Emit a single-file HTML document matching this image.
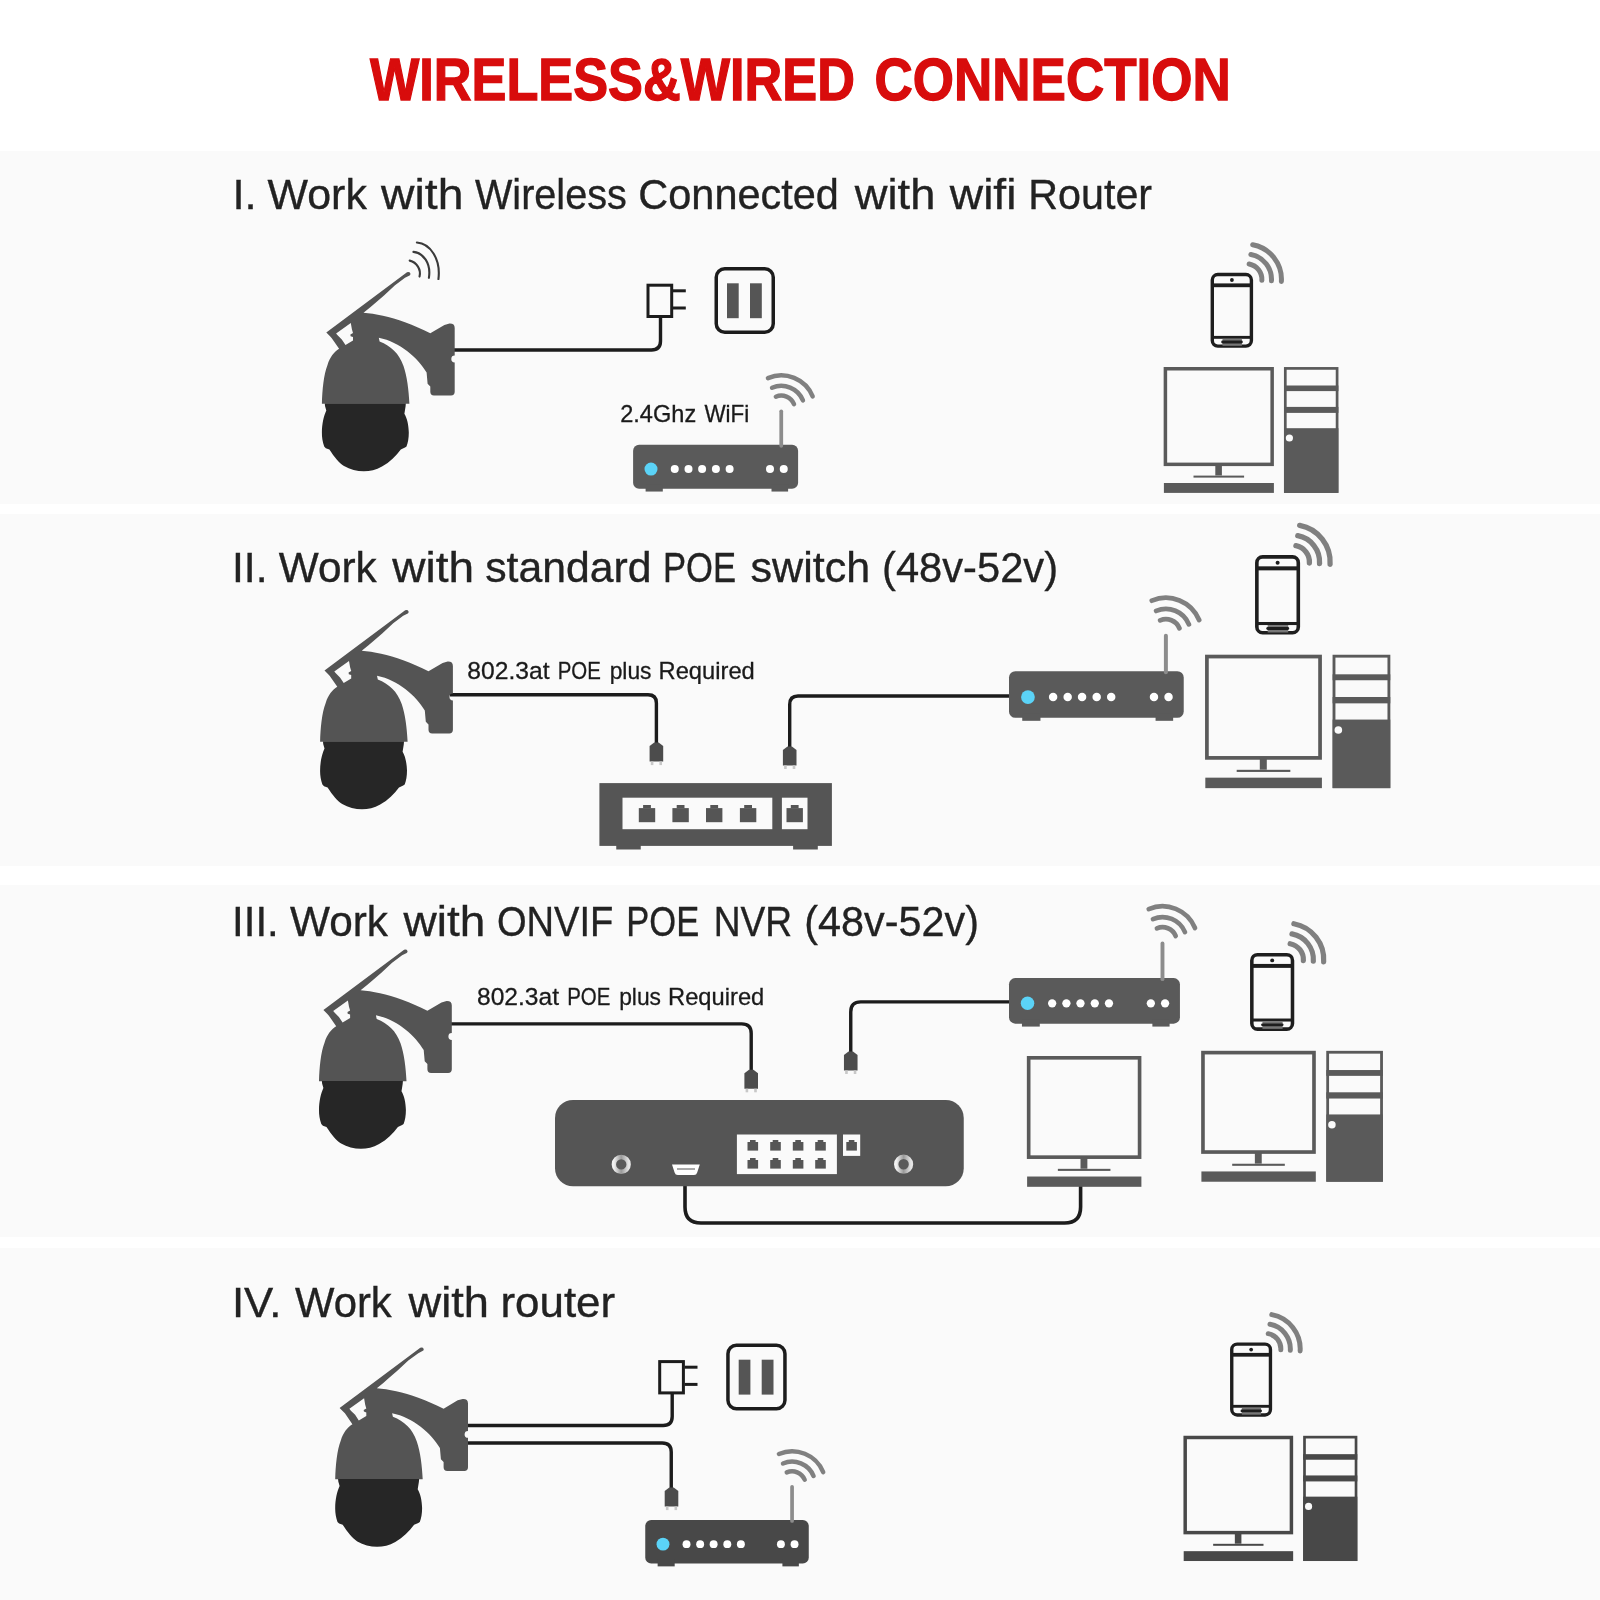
<!DOCTYPE html><html><head><meta charset="utf-8"><style>html,body{margin:0;padding:0;background:#fff;}svg{display:block;}</style></head><body>
<svg width="1600" height="1600" viewBox="0 0 1600 1600">
<defs><filter id="idf" x="-5%" y="-30%" width="110%" height="160%"><feColorMatrix type="identity"/></filter><linearGradient id="knobg" x1="0" y1="0" x2="1" y2="0"><stop offset="0" stop-color="#f2f2f2"/><stop offset="0.5" stop-color="#9a9a9a"/><stop offset="1" stop-color="#e6e6e6"/></linearGradient><g id="cam"><path d="M407.0,272.3 Q409.6,271.6 410.4,273.6 Q410.6,275 409.6,275.4 L405,277.8 L395,285.2 L384,295.4 L375,303.2 L370,307.6 L363.5,312.8 C375,313.8 390,316.5 405,322.3 C414,325.6 422,329.2 430.3,333.3 L444.4,324.9 L449.5,323.6 Q454.7,323.4 454.7,328 L454.7,355.6 A3.4,3.4 0 0 0 454.7,362.4 L454.7,391.8 Q454.7,395.5 451,395.5 L434,395.5 Q430.3,395.5 430.3,391.8 L430.3,386.6 L427.6,383.8 L426.6,372.5 C418,358 400,342 378.8,337.8 L379.6,341.4 C391,346 399,353 403.5,366 C407,376 408.8,390 409.4,403.8 L321.9,403.8 C322.3,390 323.6,375 327.5,365 C330,357 334,352 339.1,348.8 L331.6,337.9 L329.8,336.0 L326.3,332.6 Z" fill="#545454"/><path d="M336.1,333.4 L350.8,322.9 L351.9,329.3 L353,333 L350.4,334.6 L350.6,336.2 L353,337 L353,340.5 L345.5,345 L341.8,339.4 L337.6,335.3 Z" fill="#fafafa"/><path d="M324.8,403.6 L405.8,403.6 L405.6,406.3 L404.4,413.8 C407,418 408.6,425 408.8,432.5 C408.8,438 408,443 406.5,446.5 L405,447.6 L400.8,449.4 C396,456 390,462 382,466.5 C376,469.8 370,471.3 363.8,471.3 C357,471.3 350,469.5 344,466 C339,463 334.5,457 329.4,449.4 L325.8,448.2 L324.2,446.5 C322.6,442 321.8,437 321.9,432.5 C321.9,424 323.8,416 326.3,410.6 L325,406 Z" fill="#262626"/></g><g id="router"><rect x="0" y="0" width="165" height="44" rx="6" fill="#5a5a5a"/><rect x="12.5" y="40" width="17.2" height="6.8" fill="#5a5a5a"/><rect x="138.4" y="40" width="16.6" height="6.8" fill="#5a5a5a"/><line x1="148.15" y1="-33.5" x2="148.15" y2="1" stroke="#8c8c8c" stroke-width="3.75" stroke-linecap="round"/><circle cx="17.9" cy="24.35" r="6.5" fill="#5bd3f7"/><circle cx="41.65" cy="24.35" r="4" fill="#fff"/><circle cx="55.4" cy="24.35" r="4" fill="#fff"/><circle cx="69" cy="24.35" r="4" fill="#fff"/><circle cx="82.8" cy="24.35" r="4" fill="#fff"/><circle cx="96.5" cy="24.35" r="4" fill="#fff"/><circle cx="136.9" cy="24.35" r="4" fill="#fff"/><circle cx="150.65" cy="24.35" r="4" fill="#fff"/><path d="M142.76,-48.05 A13.80,13.80 0 0 1 160.90,-40.63" fill="none" stroke="#808080" stroke-width="4.5" stroke-linecap="round"/><path d="M138.97,-56.98 A23.50,23.50 0 0 1 169.86,-44.34" fill="none" stroke="#808080" stroke-width="4.5" stroke-linecap="round"/><path d="M134.87,-66.65 A34.00,34.00 0 0 1 179.56,-48.36" fill="none" stroke="#808080" stroke-width="4.5" stroke-linecap="round"/></g><g id="router4"><rect x="0" y="0" width="165" height="44" rx="6" fill="#484848"/><rect x="12.5" y="40" width="17.2" height="6.8" fill="#484848"/><rect x="138.4" y="40" width="16.6" height="6.8" fill="#484848"/><line x1="148.15" y1="-33.5" x2="148.15" y2="1" stroke="#8c8c8c" stroke-width="3.75" stroke-linecap="round"/><circle cx="17.9" cy="24.35" r="6.5" fill="#5bd3f7"/><circle cx="41.65" cy="24.35" r="4" fill="#fff"/><circle cx="55.4" cy="24.35" r="4" fill="#fff"/><circle cx="69" cy="24.35" r="4" fill="#fff"/><circle cx="82.8" cy="24.35" r="4" fill="#fff"/><circle cx="96.5" cy="24.35" r="4" fill="#fff"/><circle cx="136.9" cy="24.35" r="4" fill="#fff"/><circle cx="150.65" cy="24.35" r="4" fill="#fff"/><path d="M142.76,-48.05 A13.80,13.80 0 0 1 160.90,-40.63" fill="none" stroke="#808080" stroke-width="4.5" stroke-linecap="round"/><path d="M138.97,-56.98 A23.50,23.50 0 0 1 169.86,-44.34" fill="none" stroke="#808080" stroke-width="4.5" stroke-linecap="round"/><path d="M134.87,-66.65 A34.00,34.00 0 0 1 179.56,-48.36" fill="none" stroke="#808080" stroke-width="4.5" stroke-linecap="round"/></g><g id="phone"><rect x="1.7" y="1.7" width="39.1" height="71.6" rx="5.5" fill="#fafafa" stroke="#1e1e1e" stroke-width="3.4"/><rect x="1.7" y="10.6" width="39.1" height="3.8" fill="#1e1e1e"/><rect x="1.7" y="63.1" width="39.1" height="2.9" fill="#1e1e1e"/><circle cx="21.3" cy="7.2" r="1.9" fill="#1e1e1e"/><rect x="11.9" y="66" width="19.4" height="7" fill="#777"/><rect x="10.6" y="67.8" width="21.6" height="2.8" rx="1.4" fill="#1e1e1e"/><path d="M38.54,-8.84 A15.60,15.60 0 0 1 51.27,7.45" fill="none" stroke="#808080" stroke-width="5" stroke-linecap="round"/><path d="M40.29,-18.28 A25.20,25.20 0 0 1 60.85,8.04" fill="none" stroke="#808080" stroke-width="5" stroke-linecap="round"/><path d="M42.11,-28.06 A35.15,35.15 0 0 1 70.78,8.65" fill="none" stroke="#808080" stroke-width="5" stroke-linecap="round"/></g><g id="mon_comp"><rect x="1.7" y="1.75" width="106.75" height="95.6" fill="#fafafa" stroke="#5a5a5a" stroke-width="3.5"/><rect x="51.6" y="98" width="6.6" height="10.5" fill="#5a5a5a"/><rect x="29.8" y="108.6" width="50.6" height="2" fill="#5a5a5a"/><rect x="0.2" y="116" width="110" height="9.9" fill="#5a5a5a"/></g><g id="comp"><use href="#mon_comp"/><rect x="121.6" y="1.4" width="51.8" height="123.1" fill="#fafafa" stroke="#5a5a5a" stroke-width="2.7"/><rect x="120.3" y="18.5" width="54.4" height="5.6" fill="#5a5a5a"/><rect x="120.3" y="39.9" width="54.4" height="6" fill="#5a5a5a"/><rect x="120.3" y="61.2" width="54.4" height="64.7" fill="#5a5a5a"/><circle cx="125.7" cy="71" r="3.6" fill="#fafafa"/></g><g id="mon_comp4"><rect x="1.7" y="1.75" width="106.75" height="95.6" fill="#fafafa" stroke="#484848" stroke-width="3.5"/><rect x="51.6" y="98" width="6.6" height="10.5" fill="#484848"/><rect x="29.8" y="108.6" width="50.6" height="2" fill="#484848"/><rect x="0.2" y="116" width="110" height="9.9" fill="#484848"/></g><g id="comp4"><use href="#mon_comp4"/><rect x="121.6" y="1.4" width="51.8" height="123.1" fill="#fafafa" stroke="#484848" stroke-width="2.7"/><rect x="120.3" y="18.5" width="54.4" height="5.6" fill="#484848"/><rect x="120.3" y="39.9" width="54.4" height="6" fill="#484848"/><rect x="120.3" y="61.2" width="54.4" height="64.7" fill="#484848"/><circle cx="125.7" cy="71" r="3.6" fill="#fafafa"/></g><g id="plugout"><rect x="648" y="285.2" width="23.7" height="31.3" fill="#fafafa" stroke="#1c1c1c" stroke-width="3"/><line x1="673" y1="290.8" x2="685.8" y2="290.8" stroke="#1c1c1c" stroke-width="3"/><line x1="673" y1="308" x2="685.8" y2="308" stroke="#1c1c1c" stroke-width="3"/><rect x="716.25" y="268.75" width="57" height="63.5" rx="8.5" fill="#fafafa" stroke="#1c1c1c" stroke-width="3.5"/><rect x="727" y="283.3" width="11.7" height="34.9" fill="#555"/><rect x="750" y="283.3" width="11.8" height="34.9" fill="#555"/></g><g id="rj"><path d="M-2.2,0 L2.2,0 L6.8,3.6 L6.8,19 L-6.8,19 L-6.8,3.6 Z" fill="#4c4c4c"/><rect x="-5.6" y="19" width="2.6" height="3.6" fill="#c8c8c8"/><rect x="3" y="19" width="2.6" height="3.6" fill="#c8c8c8"/></g><g id="port"><rect x="-3.9" y="0" width="7.8" height="3.3" fill="#555"/><rect x="-8.2" y="3.1" width="16.4" height="14.1" fill="#555"/></g><g id="sport"><rect x="-2.8" y="0" width="5.6" height="2.2" fill="#555"/><rect x="-5.3" y="2" width="10.6" height="8.6" fill="#555"/></g></defs>
<rect x="0" y="0" width="1600" height="1600" fill="#fff"/>
<rect x="0" y="151" width="1600" height="353" fill="#fafafa"/>
<rect x="0" y="514" width="1600" height="352" fill="#fafafa"/>
<rect x="0" y="885" width="1600" height="352" fill="#fafafa"/>
<rect x="0" y="1248" width="1600" height="352" fill="#fafafa"/>
<text filter="url(#idf)" x="370.00" y="99.5" font-family="Liberation Sans, sans-serif" font-size="59.6" font-weight="bold" fill="#d80c0c" stroke="#d80c0c" stroke-width="1.3" textLength="484.89" lengthAdjust="spacingAndGlyphs">WIRELESS&amp;WIRED</text>
<text filter="url(#idf)" x="874.47" y="99.5" font-family="Liberation Sans, sans-serif" font-size="59.6" font-weight="bold" fill="#d80c0c" stroke="#d80c0c" stroke-width="1.3" textLength="356.33" lengthAdjust="spacingAndGlyphs">CONNECTION</text>
<text filter="url(#idf)" x="232.44" y="209.4" font-family="Liberation Sans, sans-serif" font-size="42.7" font-weight="normal" fill="#222" stroke="#222" stroke-width="0.35" textLength="24.20" lengthAdjust="spacingAndGlyphs">I.</text>
<text filter="url(#idf)" x="267.50" y="209.4" font-family="Liberation Sans, sans-serif" font-size="42.7" font-weight="normal" fill="#222" stroke="#222" stroke-width="0.35" textLength="99.34" lengthAdjust="spacingAndGlyphs">Work</text>
<text filter="url(#idf)" x="381.09" y="209.4" font-family="Liberation Sans, sans-serif" font-size="42.7" font-weight="normal" fill="#222" stroke="#222" stroke-width="0.35" textLength="82.39" lengthAdjust="spacingAndGlyphs">with</text>
<text filter="url(#idf)" x="475.00" y="209.4" font-family="Liberation Sans, sans-serif" font-size="42.7" font-weight="normal" fill="#222" stroke="#222" stroke-width="0.35" textLength="151.75" lengthAdjust="spacingAndGlyphs">Wireless</text>
<text filter="url(#idf)" x="638.36" y="209.4" font-family="Liberation Sans, sans-serif" font-size="42.7" font-weight="normal" fill="#222" stroke="#222" stroke-width="0.35" textLength="200.55" lengthAdjust="spacingAndGlyphs">Connected</text>
<text filter="url(#idf)" x="854.81" y="209.4" font-family="Liberation Sans, sans-serif" font-size="42.7" font-weight="normal" fill="#222" stroke="#222" stroke-width="0.35" textLength="80.60" lengthAdjust="spacingAndGlyphs">with</text>
<text filter="url(#idf)" x="949.83" y="209.4" font-family="Liberation Sans, sans-serif" font-size="42.7" font-weight="normal" fill="#222" stroke="#222" stroke-width="0.35" textLength="66.60" lengthAdjust="spacingAndGlyphs">wifi</text>
<text filter="url(#idf)" x="1028.35" y="209.4" font-family="Liberation Sans, sans-serif" font-size="42.7" font-weight="normal" fill="#222" stroke="#222" stroke-width="0.35" textLength="123.76" lengthAdjust="spacingAndGlyphs">Router</text>
<text filter="url(#idf)" x="231.99" y="582.25" font-family="Liberation Sans, sans-serif" font-size="42.5" font-weight="normal" fill="#222" stroke="#222" stroke-width="0.35" textLength="35.59" lengthAdjust="spacingAndGlyphs">II.</text>
<text filter="url(#idf)" x="278.75" y="582.25" font-family="Liberation Sans, sans-serif" font-size="42.5" font-weight="normal" fill="#222" stroke="#222" stroke-width="0.35" textLength="98.00" lengthAdjust="spacingAndGlyphs">Work</text>
<text filter="url(#idf)" x="392.33" y="582.25" font-family="Liberation Sans, sans-serif" font-size="42.5" font-weight="normal" fill="#222" stroke="#222" stroke-width="0.35" textLength="81.77" lengthAdjust="spacingAndGlyphs">with</text>
<text filter="url(#idf)" x="485.24" y="582.25" font-family="Liberation Sans, sans-serif" font-size="42.5" font-weight="normal" fill="#222" stroke="#222" stroke-width="0.35" textLength="166.31" lengthAdjust="spacingAndGlyphs">standard</text>
<text filter="url(#idf)" x="662.96" y="582.25" font-family="Liberation Sans, sans-serif" font-size="42.5" font-weight="normal" fill="#222" stroke="#222" stroke-width="0.35" textLength="73.14" lengthAdjust="spacingAndGlyphs">POE</text>
<text filter="url(#idf)" x="750.49" y="582.25" font-family="Liberation Sans, sans-serif" font-size="42.5" font-weight="normal" fill="#222" stroke="#222" stroke-width="0.35" textLength="119.69" lengthAdjust="spacingAndGlyphs">switch</text>
<text filter="url(#idf)" x="882.04" y="582.25" font-family="Liberation Sans, sans-serif" font-size="42.5" font-weight="normal" fill="#222" stroke="#222" stroke-width="0.35" textLength="176.07" lengthAdjust="spacingAndGlyphs">(48v-52v)</text>
<text filter="url(#idf)" x="232.03" y="936" font-family="Liberation Sans, sans-serif" font-size="42.5" font-weight="normal" fill="#222" stroke="#222" stroke-width="0.35" textLength="46.74" lengthAdjust="spacingAndGlyphs">III.</text>
<text filter="url(#idf)" x="290.00" y="936" font-family="Liberation Sans, sans-serif" font-size="42.5" font-weight="normal" fill="#222" stroke="#222" stroke-width="0.35" textLength="98.00" lengthAdjust="spacingAndGlyphs">Work</text>
<text filter="url(#idf)" x="403.58" y="936" font-family="Liberation Sans, sans-serif" font-size="42.5" font-weight="normal" fill="#222" stroke="#222" stroke-width="0.35" textLength="81.77" lengthAdjust="spacingAndGlyphs">with</text>
<text filter="url(#idf)" x="496.96" y="936" font-family="Liberation Sans, sans-serif" font-size="42.5" font-weight="normal" fill="#222" stroke="#222" stroke-width="0.35" textLength="116.40" lengthAdjust="spacingAndGlyphs">ONVIF</text>
<text filter="url(#idf)" x="626.31" y="936" font-family="Liberation Sans, sans-serif" font-size="42.5" font-weight="normal" fill="#222" stroke="#222" stroke-width="0.35" textLength="72.88" lengthAdjust="spacingAndGlyphs">POE</text>
<text filter="url(#idf)" x="713.63" y="936" font-family="Liberation Sans, sans-serif" font-size="42.5" font-weight="normal" fill="#222" stroke="#222" stroke-width="0.35" textLength="78.45" lengthAdjust="spacingAndGlyphs">NVR</text>
<text filter="url(#idf)" x="804.30" y="936" font-family="Liberation Sans, sans-serif" font-size="42.5" font-weight="normal" fill="#222" stroke="#222" stroke-width="0.35" textLength="174.69" lengthAdjust="spacingAndGlyphs">(48v-52v)</text>
<text filter="url(#idf)" x="231.91" y="1317" font-family="Liberation Sans, sans-serif" font-size="42.5" font-weight="normal" fill="#222" stroke="#222" stroke-width="0.35" textLength="49.51" lengthAdjust="spacingAndGlyphs">IV.</text>
<text filter="url(#idf)" x="295.00" y="1317" font-family="Liberation Sans, sans-serif" font-size="42.5" font-weight="normal" fill="#222" stroke="#222" stroke-width="0.35" textLength="96.76" lengthAdjust="spacingAndGlyphs">Work</text>
<text filter="url(#idf)" x="408.57" y="1317" font-family="Liberation Sans, sans-serif" font-size="42.5" font-weight="normal" fill="#222" stroke="#222" stroke-width="0.35" textLength="80.49" lengthAdjust="spacingAndGlyphs">with</text>
<text filter="url(#idf)" x="500.43" y="1317" font-family="Liberation Sans, sans-serif" font-size="42.5" font-weight="normal" fill="#222" stroke="#222" stroke-width="0.35" textLength="114.72" lengthAdjust="spacingAndGlyphs">router</text>
<text filter="url(#idf)" x="620.23" y="422.1" font-family="Liberation Sans, sans-serif" font-size="23.2" font-weight="normal" fill="#1a1a1a" stroke="#1a1a1a" stroke-width="0.3" textLength="75.97" lengthAdjust="spacingAndGlyphs">2.4Ghz</text>
<text filter="url(#idf)" x="704.40" y="422.1" font-family="Liberation Sans, sans-serif" font-size="23.2" font-weight="normal" fill="#1a1a1a" stroke="#1a1a1a" stroke-width="0.3" textLength="44.81" lengthAdjust="spacingAndGlyphs">WiFi</text>
<text filter="url(#idf)" x="467.29" y="678.7" font-family="Liberation Sans, sans-serif" font-size="24.5" font-weight="normal" fill="#1a1a1a" stroke="#1a1a1a" stroke-width="0.3" textLength="82.21" lengthAdjust="spacingAndGlyphs">802.3at</text>
<text filter="url(#idf)" x="557.73" y="678.7" font-family="Liberation Sans, sans-serif" font-size="24.5" font-weight="normal" fill="#1a1a1a" stroke="#1a1a1a" stroke-width="0.3" textLength="43.15" lengthAdjust="spacingAndGlyphs">POE</text>
<text filter="url(#idf)" x="609.67" y="678.7" font-family="Liberation Sans, sans-serif" font-size="24.5" font-weight="normal" fill="#1a1a1a" stroke="#1a1a1a" stroke-width="0.3" textLength="41.86" lengthAdjust="spacingAndGlyphs">plus</text>
<text filter="url(#idf)" x="658.56" y="678.7" font-family="Liberation Sans, sans-serif" font-size="24.5" font-weight="normal" fill="#1a1a1a" stroke="#1a1a1a" stroke-width="0.3" textLength="96.24" lengthAdjust="spacingAndGlyphs">Required</text>
<text filter="url(#idf)" x="477.00" y="1005.3" font-family="Liberation Sans, sans-serif" font-size="24.5" font-weight="normal" fill="#1a1a1a" stroke="#1a1a1a" stroke-width="0.3" textLength="82.01" lengthAdjust="spacingAndGlyphs">802.3at</text>
<text filter="url(#idf)" x="567.23" y="1005.3" font-family="Liberation Sans, sans-serif" font-size="24.5" font-weight="normal" fill="#1a1a1a" stroke="#1a1a1a" stroke-width="0.3" textLength="43.15" lengthAdjust="spacingAndGlyphs">POE</text>
<text filter="url(#idf)" x="619.17" y="1005.3" font-family="Liberation Sans, sans-serif" font-size="24.5" font-weight="normal" fill="#1a1a1a" stroke="#1a1a1a" stroke-width="0.3" textLength="41.86" lengthAdjust="spacingAndGlyphs">plus</text>
<text filter="url(#idf)" x="668.06" y="1005.3" font-family="Liberation Sans, sans-serif" font-size="24.5" font-weight="normal" fill="#1a1a1a" stroke="#1a1a1a" stroke-width="0.3" textLength="96.24" lengthAdjust="spacingAndGlyphs">Required</text>
<path d="M452,350 H651.5 Q660.5,350 660.5,341 V317" fill="none" stroke="#1c1c1c" stroke-width="3.4"/>
<use href="#cam" transform="translate(0,0) scale(1)"/>
<path d="M416.875,242.5 C430,243.44 440.94,258.75 438.44,279.06" fill="none" stroke="#3a3a3a" stroke-width="2.1" stroke-linecap="round"/>
<path d="M413.44,251.875 C423.125,252.81 431.25,263.125 428.9,277.8" fill="none" stroke="#3a3a3a" stroke-width="2.1" stroke-linecap="round"/>
<path d="M409.69,260.625 C416.875,262.5 421.25,269.375 419.53,276.56" fill="none" stroke="#3a3a3a" stroke-width="2.1" stroke-linecap="round"/>
<use href="#plugout" transform="translate(0,0) scale(1)"/>
<use href="#router" transform="translate(633.1,444.75) scale(1)"/>
<use href="#phone" transform="translate(1210.6,272.8) scale(1)"/>
<use href="#comp" transform="translate(1163.7,367) scale(1)"/>
<path d="M450,694.75 H648 Q656.4,694.75 656.4,703 V743.5" fill="none" stroke="#1c1c1c" stroke-width="3.4"/>
<path d="M1010,696 H798 Q789.7,696 789.7,704.5 V747.5" fill="none" stroke="#1c1c1c" stroke-width="3.4"/>
<use href="#cam" transform="translate(-1.8,338) scale(1)"/>
<use href="#rj" transform="translate(656.4,742.5) scale(1)"/>
<use href="#rj" transform="translate(789.7,746.4) scale(1)"/>
<rect x="599.4" y="783.1" width="232.5" height="62.8" fill="#555"/>
<rect x="616.25" y="840" width="24.5" height="9.5" fill="#555"/><rect x="793.1" y="840" width="24.7" height="9.5" fill="#555"/>
<rect x="622.5" y="797.7" width="149.8" height="31.5" fill="#fafafa"/><rect x="781.9" y="797.7" width="25.6" height="31.5" fill="#fafafa"/>
<use href="#port" transform="translate(647,805) scale(1)"/>
<use href="#port" transform="translate(680.6,805) scale(1)"/>
<use href="#port" transform="translate(714.2,805) scale(1)"/>
<use href="#port" transform="translate(748.1,805) scale(1)"/>
<use href="#port" transform="translate(794.7,805) scale(1)"/>
<use href="#router" transform="translate(1009,671.25) scale(1.059)"/>
<use href="#phone" transform="translate(1255.05,555.1) scale(1.06)"/>
<use href="#comp" transform="translate(1205.1,654.7) scale(1.06)"/>
<path d="M450,1023.9 H741.7 Q751.2,1023.9 751.2,1033.4 V1070.5" fill="none" stroke="#1c1c1c" stroke-width="3.4"/>
<path d="M1010,1001.9 H860.75 Q850.75,1001.9 850.75,1011.9 V1052" fill="none" stroke="#1c1c1c" stroke-width="3.4"/>
<path d="M685,1185 V1207 Q685,1223 701,1223 H1064.6 Q1080.6,1223 1080.6,1207 V1186" fill="none" stroke="#1c1c1c" stroke-width="3.6"/>
<use href="#cam" transform="translate(-2.9,677.5) scale(1)"/>
<use href="#rj" transform="translate(751.2,1069.7) scale(1)"/>
<use href="#rj" transform="translate(850.75,1051.4) scale(1)"/>
<rect x="555" y="1100" width="408.75" height="86.25" rx="18" fill="#555"/>
<rect x="736.9" y="1134.5" width="100" height="39.6" fill="#fafafa"/><rect x="843" y="1134.5" width="17.2" height="21.4" fill="#fafafa"/>
<use href="#sport" transform="translate(752.8,1140) scale(1)"/>
<use href="#sport" transform="translate(752.8,1158) scale(1)"/>
<use href="#sport" transform="translate(775.5,1140) scale(1)"/>
<use href="#sport" transform="translate(775.5,1158) scale(1)"/>
<use href="#sport" transform="translate(798.1,1140) scale(1)"/>
<use href="#sport" transform="translate(798.1,1158) scale(1)"/>
<use href="#sport" transform="translate(820.5,1140) scale(1)"/>
<use href="#sport" transform="translate(820.5,1158) scale(1)"/>
<use href="#sport" transform="translate(851.6,1140) scale(1)"/>
<circle cx="621.25" cy="1164.4" r="7.4" fill="#5a5a5a" stroke="url(#knobg)" stroke-width="4.4"/>
<circle cx="903.6" cy="1164.2" r="7.4" fill="#5a5a5a" stroke="url(#knobg)" stroke-width="4.4"/>
<path d="M672,1164.4 H699.8 L697.2,1172.5 Q696.5,1175 694,1175 H677.8 Q675.3,1175 674.6,1172.5 Z" fill="#fff"/>
<line x1="677" y1="1169" x2="695" y2="1169" stroke="#555" stroke-width="1"/>
<use href="#router" transform="translate(1009,978.1) scale(1.036)"/>
<use href="#mon_comp" transform="translate(1026.9,1056) scale(1.039)"/>
<use href="#phone" transform="translate(1250.06,952.9) scale(1.04)"/>
<use href="#comp" transform="translate(1201.2,1050.8) scale(1.04)"/>
<path d="M465,1425.5 H663.2 Q672.2,1425.5 672.2,1416.5 V1393" fill="none" stroke="#1c1c1c" stroke-width="3.4"/>
<path d="M465,1443 H662.25 Q671.25,1443 671.25,1452 V1488" fill="none" stroke="#1c1c1c" stroke-width="3.4"/>
<use href="#cam" transform="translate(13.3,1075.4) scale(1)"/>
<use href="#plugout" transform="translate(11.7,1076.4) scale(1)"/>
<use href="#rj" transform="translate(671.5,1487.5) scale(1)"/>
<use href="#router4" transform="translate(645.25,1520) scale(0.991)"/>
<use href="#phone" transform="translate(1230.06,1342.4) scale(0.99)"/>
<use href="#comp4" transform="translate(1183.5,1435.75) scale(0.995)"/>
</svg></body></html>
